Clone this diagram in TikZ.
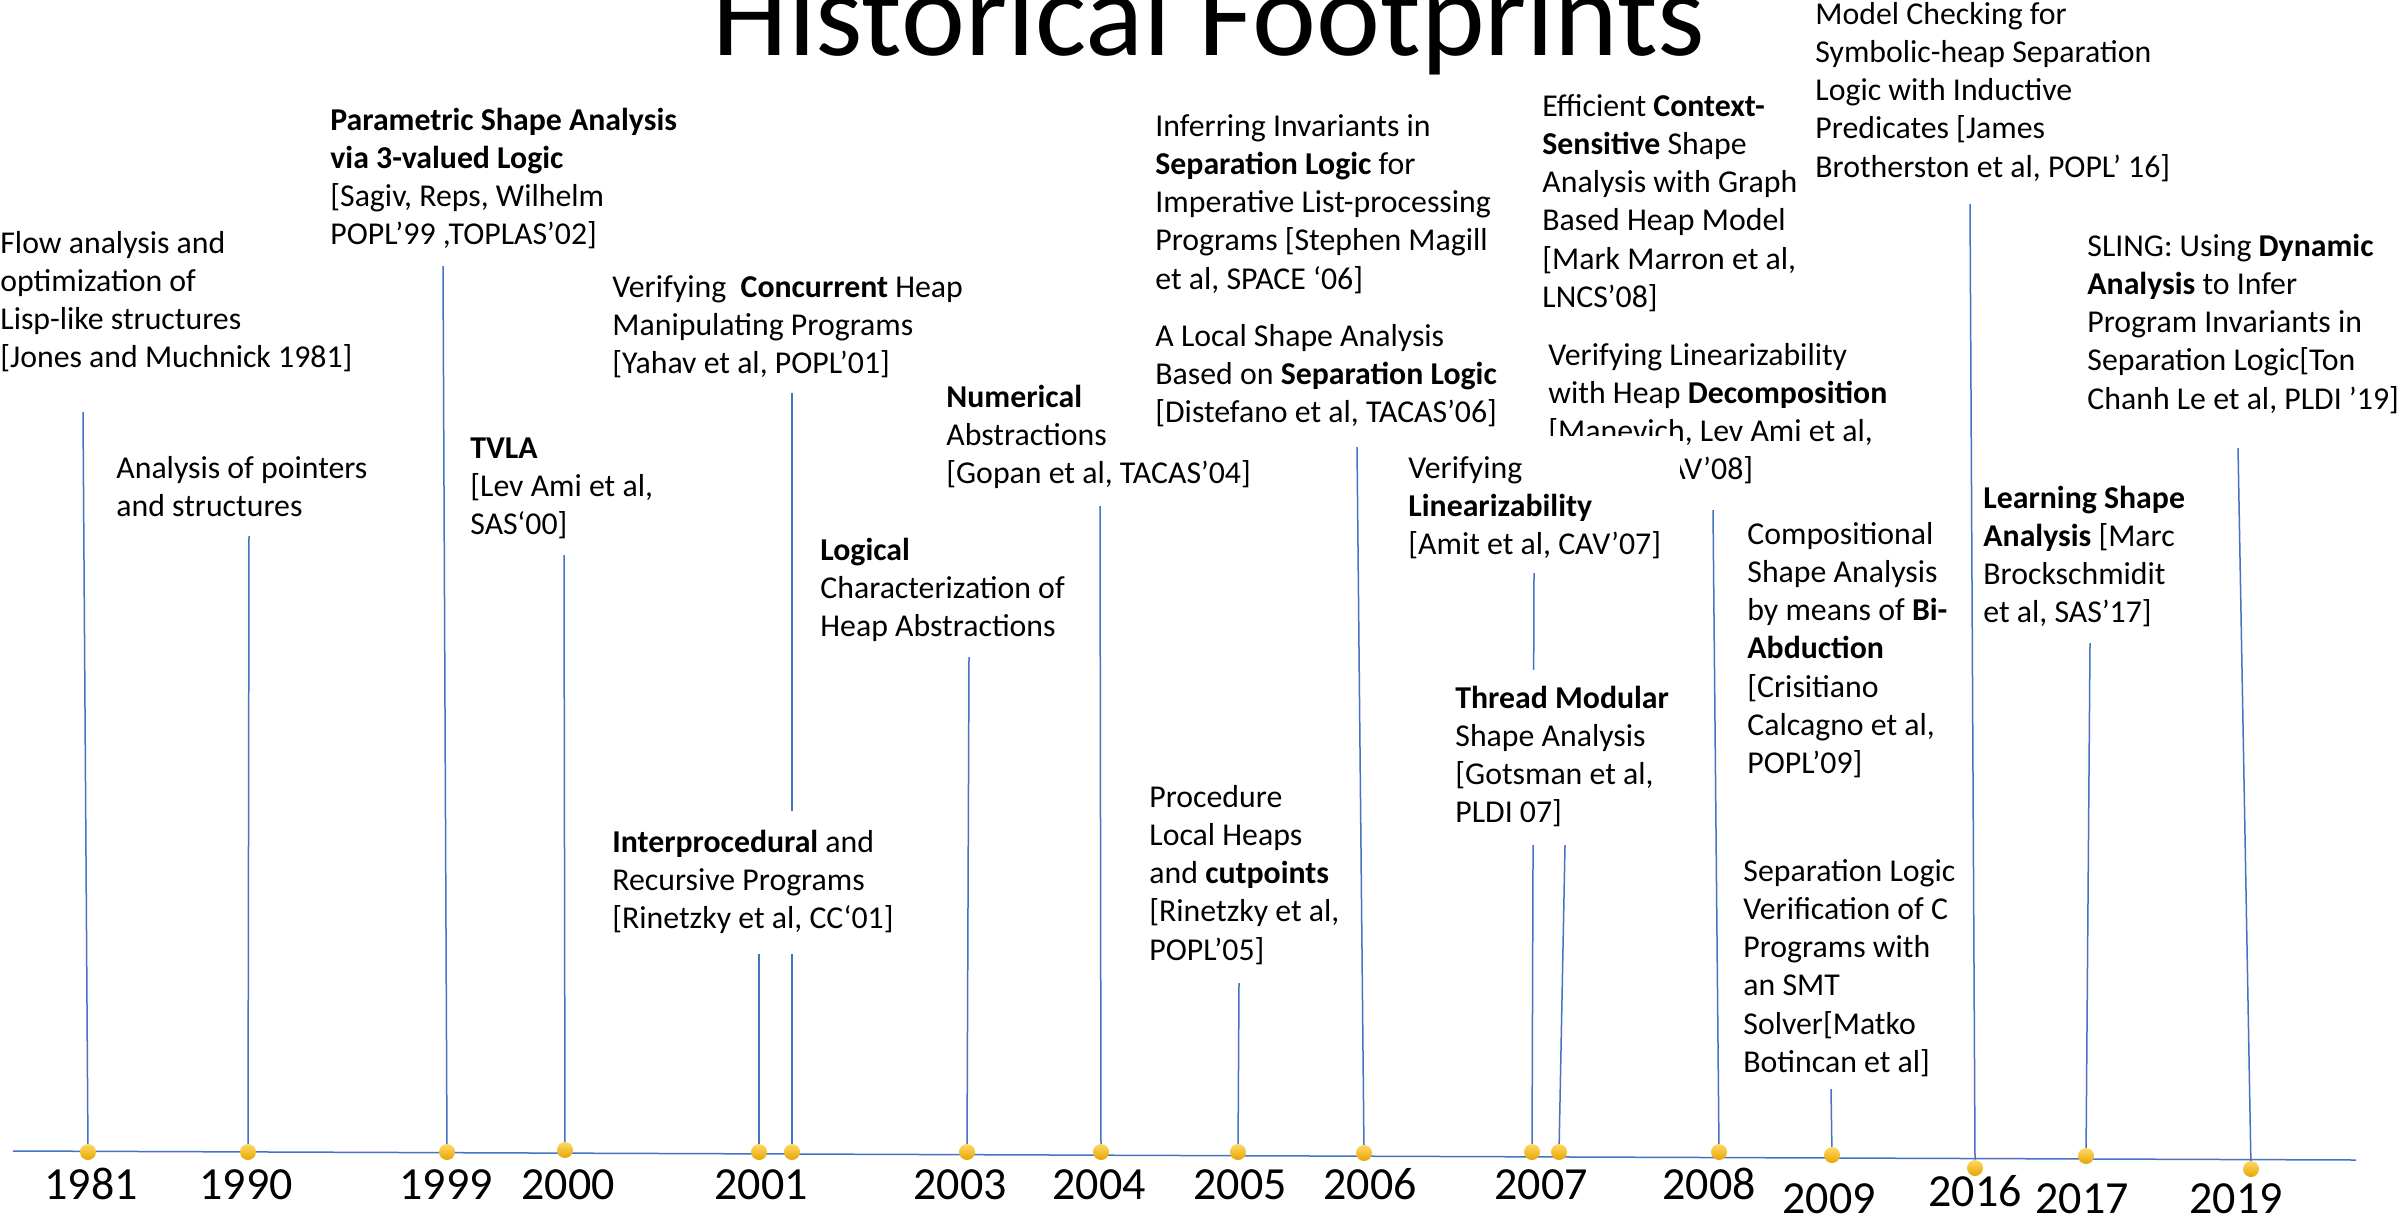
\documentclass[tikz,border=0pt]{standalone}
\usepackage{fontspec}
\setmainfont{Carlito}
\usetikzlibrary{backgrounds}
\definecolor{linkblue}{HTML}{4472C4}
\definecolor{dotlight}{HTML}{FFD966}
\definecolor{dotdark}{HTML}{E6A500}
\newcommand{\bodyfont}{\fontsize{15.9}{19.15}\selectfont}
\newcommand{\yearfont}{\fontsize{23}{27}\selectfont}
\newcommand{\titlefont}{\fontsize{60.6}{70}\selectfont}
% left-aligned stack of lines whose baseline is that of the first line
\newcommand{\stack}[1]{\begin{tabular}[t]{@{}l@{}}#1\end{tabular}}

\begin{document}
\begin{tikzpicture}[x=0.5pt,y=-0.5pt,
  blk/.style={anchor=base west, inner sep=0pt, font=\bodyfont},
  masked/.style={blk, fill=white, inner sep=#1},
  conn/.style={draw=linkblue, line width=0.75pt},
  dot/.style={circle, minimum size=8pt, inner sep=0pt,
              top color=dotlight, bottom color=dotdark},
  yr/.style={anchor=base, inner sep=0pt, font=\yearfont}]

\useasboundingbox (0,0) rectangle (2402,1216);

% title
\node[anchor=base, inner sep=0pt, font=\titlefont] (title) at (1209,55) {Historical Footprints};

% paper blocks (positions are the first baselines)
\node[blk] (A) at (0,253) {\stack{Flow analysis and\\optimization of\\Lisp-like structures\\{[}Jones and Muchnick 1981]}};
\node[blk] (B) at (116,478) {\stack{Analysis of pointers\\and structures}};
\node[blk] (C) at (330,130) {\stack{\textbf{Parametric Shape Analysis}\\\textbf{via 3-valued Logic}\\{[}Sagiv, Reps, Wilhelm\\POPL’99 ,TOPLAS’02]}};
\node[blk] (D) at (470,458) {\stack{\textbf{TVLA}\\{[}Lev Ami et al,\\SAS‘00]}};
\node[blk] (E) at (612,297) {\stack{Verifying~ \textbf{Concurrent} Heap\\Manipulating Programs\\{[}Yahav et al, POPL’01]}};
\node[masked=7pt] (F) at (598,852) {\stack{\textbf{Interprocedural} and\\Recursive Programs\\{[}Rinetzky et al, CC‘01]}};
\node[blk] (G) at (820,560) {\stack{\textbf{Logical}\\Characterization of\\Heap Abstractions}};
\node[blk] (H) at (946,407) {\stack{\textbf{Numerical}\\Abstractions\\{[}Gopan et al, TACAS’04]}};
\node[blk] (I) at (1149,807) {\stack{Procedure\\Local Heaps\\and \textbf{cutpoints}\\{[}Rinetzky et al,\\POPL’05]}};
\node[blk] (J) at (1155,136) {\stack{Inferring Invariants in\\\textbf{Separation Logic} for\\Imperative List-processing\\Programs [Stephen Magill\\et al, SPACE ‘06]}};
\node[blk] (M) at (1548,365) {\stack{Verifying Linearizability\\with Heap \textbf{Decomposition}\\{[}Manevich, Lev Ami et al,\\\hspace*{51pt}CAV’08]}};
% the 2007 box hides part of the 2008 text
\fill[white] (1500,436) rectangle (1680,500);
\node[blk] (L) at (1408,478) {\stack{Verifying\\\textbf{Linearizability}\\{[}Amit et al, CAV’07]}};
\node[blk] (K) at (1155,346) {\stack{A Local Shape Analysis\\Based on \textbf{Separation Logic}\\{[}Distefano et al, TACAS’06]}};
\node[masked=5.5pt] (N) at (1444,708) {\stack{\textbf{Thread Modular}\\Shape Analysis\\{[}Gotsman et al,\\PLDI 07]}};
\node[blk] (O) at (1542,116) {\stack{Efficient \textbf{Context-}\\\textbf{Sensitive} Shape\\Analysis with Graph\\Based Heap Model\\{[}Mark Marron et al,\\LNCS’08]}};
\node[blk] (P) at (1747,544) {\stack{Compositional\\Shape Analysis\\by means of \textbf{Bi-}\\\textbf{Abduction}\\{[}Crisitiano\\Calcagno et al,\\POPL’09]}};
\node[blk] (Q) at (1743,881) {\stack{Separation Logic\\Verification of C\\Programs with\\an SMT\\Solver[Matko\\Botincan et al]}};
\node[blk] (R) at (1815,24) {\stack{Model Checking for\\Symbolic-heap Separation\\Logic with Inductive\\Predicates [James\\Brotherston et al, POPL’ 16]}};
\node[blk] (S) at (1983,508) {\stack{\textbf{Learning Shape}\\\textbf{Analysis} [Marc\\Brockschmidit\\et al, SAS’17]}};
\node[blk] (T) at (2087,256) {\stack{SLING: Using \textbf{Dynamic}\\\textbf{Analysis} to Infer\\Program Invariants in\\Separation Logic[Ton\\Chanh Le et al, PLDI ’19]}};

% timeline ends
\coordinate (axL) at (13,1151);
\coordinate (axR) at (2356,1160);

% upper ends of the connectors
\coordinate (t1981) at (83,412);
\coordinate (t1990) at (249,536);
\coordinate (t1999) at (443,266);
\coordinate (t2000) at (564,555);
\coordinate (t2001a) at (759,948);
\coordinate (t2001b) at (792,393);
\coordinate (t2003) at (969,657);
\coordinate (t2004) at (1100,506);
\coordinate (t2005) at (1239,983);
\coordinate (t2006) at (1357,447);
\coordinate (t2007a) at (1534,573);
\coordinate (t2007b) at (1565,845);
\coordinate (t2008) at (1713,510);
\coordinate (t2009) at (1831,1089);
\coordinate (t2016) at (1970,204);
\coordinate (t2017) at (2090,643);
\coordinate (t2019) at (2238,448);

% milestone dots
\node[dot] (d1981) at (88,1152) {};
\node[dot] (d1990) at (248,1152) {};
\node[dot] (d1999) at (447,1152) {};
\node[dot] (d2000) at (565,1150) {};
\node[dot] (d2001a) at (759,1152) {};
\node[dot] (d2001b) at (792,1152) {};
\node[dot] (d2003) at (967,1152) {};
\node[dot] (d2004) at (1101,1152) {};
\node[dot] (d2005) at (1238,1152) {};
\node[dot] (d2006) at (1364,1153) {};
\node[dot] (d2007a) at (1532,1152) {};
\node[dot] (d2007b) at (1559,1152) {};
\node[dot] (d2008) at (1719,1152) {};
\node[dot] (d2009) at (1832,1155) {};
\node[dot] (d2016) at (1975,1168) {};
\node[dot] (d2017) at (2086,1156) {};
\node[dot] (d2019) at (2251,1169) {};

% year labels
\node[yr] (y1981) at (91,1199) {1981};
\node[yr] (y1990) at (246,1199) {1990};
\node[yr] (y1999) at (446,1199) {1999};
\node[yr] (y2000) at (568,1199) {2000};
\node[yr] (y2001) at (761,1199) {2001};
\node[yr] (y2003) at (960,1199) {2003};
\node[yr] (y2004) at (1099,1199) {2004};
\node[yr] (y2005) at (1240,1199) {2005};
\node[yr] (y2006) at (1370,1199) {2006};
\node[yr] (y2007) at (1541,1199) {2007};
\node[yr] (y2008) at (1709,1199) {2008};
\node[yr] (y2009) at (1829,1213) {2009};
\node[yr] (y2016) at (1975,1206) {2016};
\node[yr] (y2017) at (2082,1213) {2017};
\node[yr] (y2019) at (2236,1213) {2019};

\begin{scope}[on background layer]
  \fill[white] (0,0) rectangle (2402,1216);
  \draw[conn] (axL) -- (axR);
  \draw[conn] (t1981) -- (d1981.center);
  \draw[conn] (t1990) -- (d1990.center);
  \draw[conn] (t1999) -- (d1999.center);
  \draw[conn] (t2000) -- (d2000.center);
  \draw[conn] (t2001a) -- (d2001a.center);
  \draw[conn] (t2001b) -- (d2001b.center);
  \draw[conn] (t2003) -- (d2003.center);
  \draw[conn] (t2004) -- (d2004.center);
  \draw[conn] (t2005) -- (d2005.center);
  \draw[conn] (t2006) -- (d2006.center);
  \draw[conn] (t2007a) -- (d2007a.center);
  \draw[conn] (t2007b) -- (d2007b.center);
  \draw[conn] (t2008) -- (d2008.center);
  \draw[conn] (t2009) -- (d2009.center);
  \draw[conn] (t2016) -- (d2016.north);
  \draw[conn] (t2017) -- (d2017.center);
  \draw[conn] (t2019) -- (d2019.center);
\end{scope}
\end{tikzpicture}
\end{document}
